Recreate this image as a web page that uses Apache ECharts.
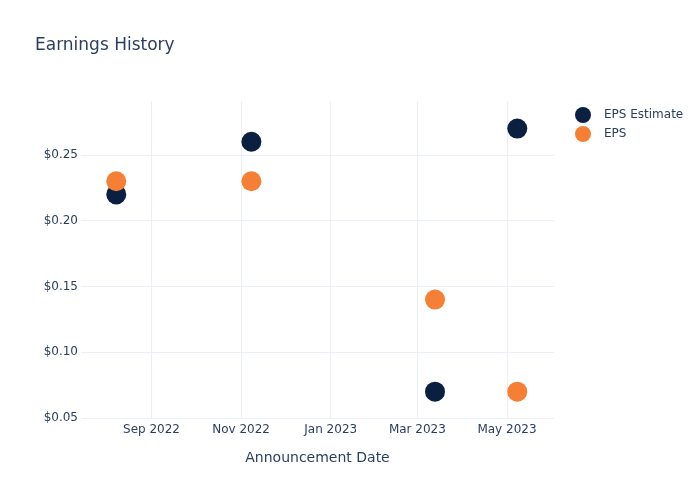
<!DOCTYPE html>
<html><head><meta charset="utf-8">
<script src="https://cdn.jsdelivr.net/npm/echarts@6/dist/echarts.min.js"></script>
<style>html,body{margin:0;padding:0;background:#fff}#c{width:700px;height:500px}</style>
</head><body><div id="c"></div>
<script>
const dates = ['2022-08-08', '2022-11-08', '2023-03-13', '2023-05-08'];
const epsEstimate = [0.22, 0.26, 0.07, 0.27];
const eps = [0.23, 0.23, 0.14, 0.07];
const xTicks = ['2022-09-01', '2022-11-01', '2023-01-01', '2023-03-01', '2023-05-01'];
const yTicks = [0.05, 0.10, 0.15, 0.20, 0.25];
const monthNames = ['Jan','Feb','Mar','Apr','May','Jun','Jul','Aug','Sep','Oct','Nov','Dec'];

const ts = s => { const [y,m,d] = s.split('-').map(Number); return Date.UTC(y, m-1, d); };
const font = 'DejaVu Sans, Open Sans, sans-serif';
const txt = '#2a3f5f';
const grid = '#ebf0f8';

const chart = echarts.init(document.getElementById('c'), null, {renderer: 'canvas'});
chart.setOption({
  animation: false,
  backgroundColor: '#fff',
  title: {text: 'Earnings History', left: 30, top: 32, textStyle: {fontFamily: font, fontSize: 17, fontWeight: 'normal', color: txt}},
  grid: {left: 81, right: 146, top: 101, bottom: 82, containLabel: false},
  legend: {
    orient: 'vertical', left: 570, top: 102, itemGap: 3, itemWidth: 32, itemHeight: 16,
    icon: 'circle', textStyle: {fontFamily: font, fontSize: 12, color: txt},
    data: ['EPS Estimate', 'EPS']
  },
  xAxis: {
    type: 'value',
    min: ts('2022-07-15'), max: ts('2023-06-02'),
    name: 'Announcement Date', nameLocation: 'middle', nameGap: 33,
    nameTextStyle: {fontFamily: font, fontSize: 14, color: txt},
    axisLine: {show: false},
    axisTick: {show: false, customValues: xTicks.map(ts)},
    axisLabel: {
      customValues: xTicks.map(ts), margin: 6,
      fontFamily: font, fontSize: 12, color: txt,
      formatter: v => { const d = new Date(v); return monthNames[d.getUTCMonth()] + ' ' + d.getUTCFullYear(); }
    },
    splitLine: {show: true, lineStyle: {color: grid, width: 1}}
  },
  yAxis: {
    type: 'value', min: 0.05, max: 0.291,
    axisLine: {show: false},
    axisTick: {show: false, customValues: yTicks},
    axisLabel: {customValues: yTicks, margin: 3, fontFamily: font, fontSize: 12, color: txt,
      formatter: v => '$' + v.toFixed(2)},
    splitLine: {show: true, lineStyle: {color: grid, width: 1}}
  },
  series: [
    {name: 'EPS Estimate', type: 'scatter', symbolSize: 20, itemStyle: {color: '#0b1f41', opacity: 1},
     data: dates.map((d, i) => [ts(d), epsEstimate[i]])},
    {name: 'EPS', type: 'scatter', symbolSize: 20, itemStyle: {color: '#f58035', opacity: 1},
     data: dates.map((d, i) => [ts(d), eps[i]])}
  ]
});
</script></body></html>
